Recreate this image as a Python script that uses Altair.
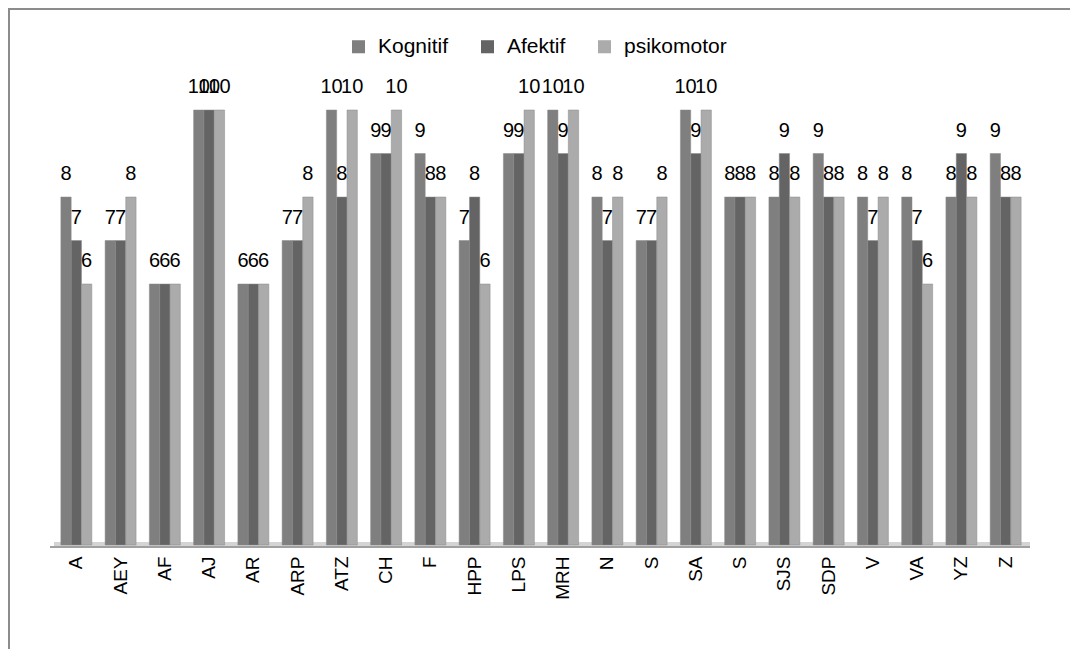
import altair as alt
import pandas as pd

names = ["A", "AEY", "AF", "AJ", "AR", "ARP", "ATZ", "CH", "F", "HPP", "LPS",
         "MRH", "N", "S", "SA", "S", "SJS", "SDP", "V", "VA", "YZ", "Z"]
kognitif = [8, 7, 6, 10, 6, 7, 10, 9, 9, 7, 9, 10, 8, 7, 10, 8, 8, 9, 8, 8, 8, 9]
afektif = [7, 7, 6, 10, 6, 7, 8, 9, 8, 8, 9, 9, 7, 7, 9, 8, 9, 8, 7, 7, 9, 8]
psikomotor = [6, 8, 6, 10, 6, 8, 10, 10, 8, 6, 10, 10, 8, 8, 10, 8, 8, 8, 8, 6, 8, 8]
series = ["Kognitif", "Afektif", "psikomotor"]
colors = ["#7f7f7f", "#646464", "#ababab"]

rows = []
for i in range(len(names)):
    for s, vals in zip(series, [kognitif, afektif, psikomotor]):
        rows.append({"idx": i, "series": s, "value": vals[i]})
df = pd.DataFrame(rows)

label_expr = "[" + ",".join("'%s'" % n for n in names) + "][datum.value]"
FONT = "Liberation Sans"

x_enc = alt.X("idx:O", title=None,
              scale=alt.Scale(paddingInner=0.3, paddingOuter=0.2),
              axis=alt.Axis(labelExpr=label_expr, labelAngle=-90, labelFontSize=19,
                            labelFont=FONT, labelColor="#000000", ticks=False,
                            domain=False, grid=False, labelPadding=11))
y_enc = alt.Y("value:Q", title=None, scale=alt.Scale(domain=[0, 10]), axis=None)
off = alt.XOffset("series:N", sort=series, scale=alt.Scale(paddingInner=0))

base = alt.Chart(df)

bars = base.mark_bar(stroke="#8a8a8a", strokeWidth=0.5).encode(
    x=x_enc, y=y_enc, xOffset=off,
    color=alt.Color("series:N", sort=series,
                    scale=alt.Scale(domain=series, range=colors),
                    legend=alt.Legend(title=None, orient="none", direction="horizontal",
                                      legendX=296, legendY=-74, symbolType="square",
                                      symbolSize=170, labelFontSize=21, labelFont=FONT,
                                      labelColor="#000000", columnPadding=28,
                                      labelOffset=9, symbolStrokeWidth=0)),
)

text = base.mark_text(dy=-23, fontSize=20, font=FONT, color="#000000").encode(
    x=x_enc, y=y_enc, xOffset=off, text="value:Q"
)

floor_top = alt.Chart(alt.Data(values=[{}])).mark_rule(color="#d4d4d4", strokeWidth=4).encode(
    x=alt.value(2), x2=alt.value(978), y=alt.value(434)
)
floor = alt.Chart(alt.Data(values=[{}])).mark_rule(color="#a0a0a0", strokeWidth=2).encode(
    x=alt.value(-2), x2=alt.value(978), y=alt.value(437)
)

border = alt.Chart(alt.Data(values=[{}])).mark_rect(
    fill=None, stroke="#8c8c8c", strokeWidth=2
).encode(
    x=alt.value(-43), x2=alt.value(1060), y=alt.value(-101), y2=alt.value(580)
)

chart = alt.layer(border, floor_top, floor, bars, text).properties(
    width=978, height=435,
    autosize=alt.AutoSizeParams(type="none"),
    padding={"left": 44, "top": 102, "right": 40, "bottom": 104},
).configure(background="#ffffff").configure_view(strokeWidth=0, stroke="transparent")

chart.save("out.html", embed_options={"renderer": "svg", "actions": False})
